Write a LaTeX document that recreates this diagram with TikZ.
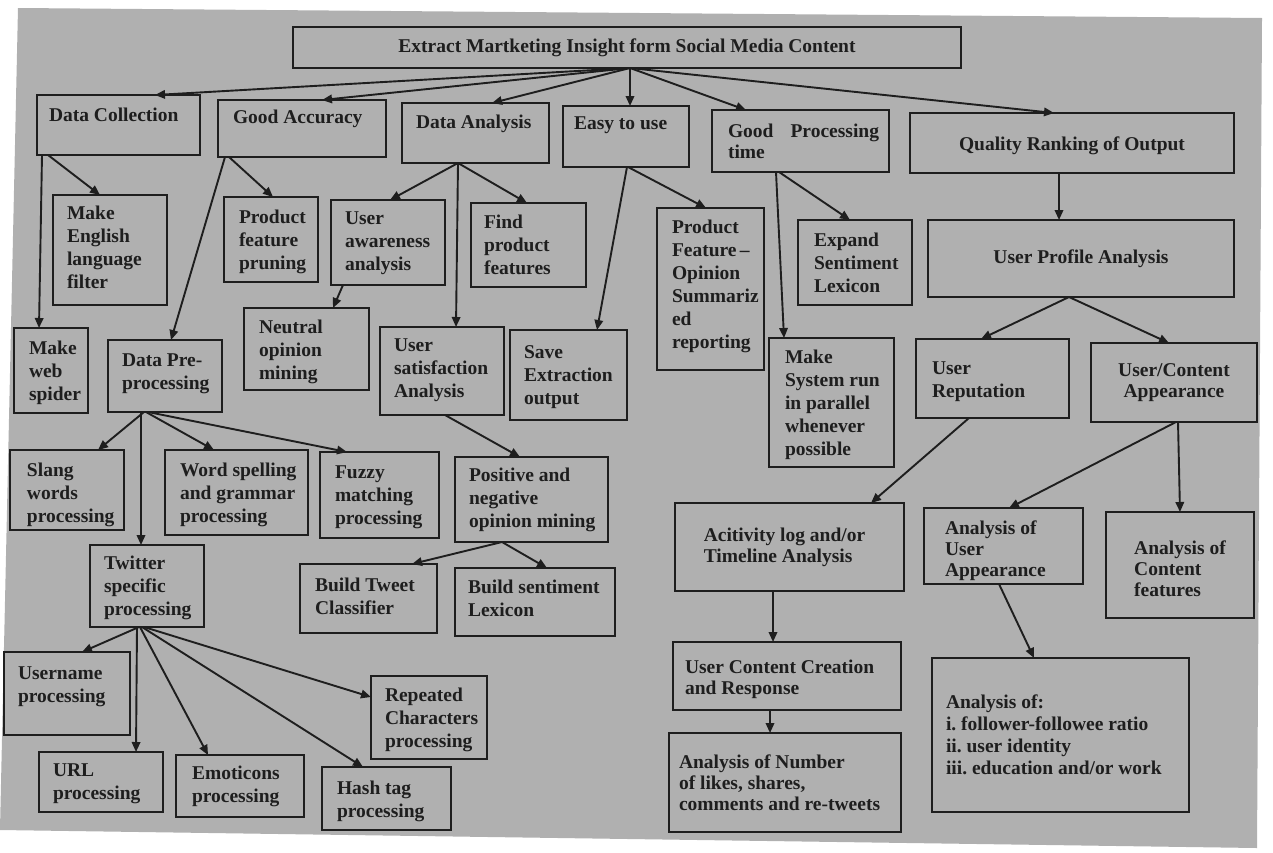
\documentclass[tikz,border=0pt]{standalone}
\usepackage{fontspec}
\setmainfont{Liberation Serif}
\usetikzlibrary{arrows.meta,calc}
\frenchspacing
\definecolor{paper}{RGB}{176,176,176}
\definecolor{ink}{RGB}{30,30,30}
\tikzset{
  box/.style={draw=ink, line width=2.3pt, inner sep=0pt, outer sep=0pt},
  lbl/.style={inner sep=0pt, outer sep=0pt, text=ink, align=left,
              font=\fontsize{19.5}{23}\selectfont\bfseries},
  tight/.style={font=\fontsize{19.5}{21}\selectfont\bfseries},
  conn/.style={draw=ink, line width=1.9pt, -{Triangle[length=10pt,width=8.5pt]}},
}
% box: name, left, top, right, bottom (pixel units, y downwards)
\newcommand\bx[5]{%
  \node[box, minimum width={#4-#2}, minimum height={#5-#3}] (#1)
    at ({(#2+#4)/2},{(#3+#5)/2}) {};}
% label at the top left of a box: [options]{name}{left pad}{first baseline}{text}
\newcommand\tl[5][]{%
  \node[lbl, anchor=north west, #1] at ($(#2.north west)+(#3,{#4-16})$)
    {\rule{0pt}{16pt}#5};}
\begin{document}
\begin{tikzpicture}[x=1pt, y=-1pt]
  \useasboundingbox (0,0) rectangle (1273,852);
  \fill[white] (0,0) rectangle (1273,852);
  \fill[paper] (18,8) -- (1262,18) -- (1257,848) -- (0,830) -- cycle;

  % ---- boxes ----
  \bx{root}{293}{27}{961}{68}
  \bx{dc}{37}{95}{200}{155}
  \bx{ga}{218}{100}{386}{157}
  \bx{da}{402}{103}{549}{163}
  \bx{eu}{563}{106}{689}{167}
  \bx{gp}{712}{110}{889}{172}
  \bx{qr}{910}{113}{1234}{173}
  \bx{me}{53}{195}{167}{305}
  \bx{pp}{224}{197}{318}{282}
  \bx{ua}{331}{200}{445}{285}
  \bx{fp}{471}{203}{586}{287}
  \bx{pfo}{657}{208}{764}{370}
  \bx{ex}{798}{220}{912}{305}
  \bx{upa}{928}{220}{1234}{297}
  \bx{nm}{244}{308}{369}{390}
  \bx{wsp}{14}{328}{88}{413}
  \bx{dp}{108}{340}{222}{412}
  \bx{us}{380}{327}{504}{415}
  \bx{se}{510}{330}{627}{420}
  \bx{ms}{769}{338}{894}{467}
  \bx{ur}{916}{339}{1069}{418}
  \bx{uc}{1091}{343}{1257}{422}
  \bx{sl}{10}{450}{124}{530}
  \bx{wg}{165}{450}{308}{535}
  \bx{fz}{320}{452}{439}{538}
  \bx{pn}{455}{457}{608}{542}
  \bx{al}{675}{503}{904}{591}
  \bx{aua}{924}{508}{1083}{584}
  \bx{acf}{1106}{512}{1254}{618}
  \bx{tw}{90}{545}{204}{627}
  \bx{bt}{300}{564}{437}{633}
  \bx{bs}{455}{568}{615}{636}
  \bx{un}{4}{652}{130}{735}
  \bx{rc}{371}{676}{487}{759}
  \bx{ucc}{673}{642}{901}{710}
  \bx{url}{39}{752}{163}{812}
  \bx{em}{176}{755}{304}{817}
  \bx{ht}{322}{767}{451}{830}
  \bx{num}{669}{733}{901}{832}
  \bx{aof}{932}{658}{1189}{812}

  % ---- labels ----
  \node[lbl, align=center] at (root.center) {Extract Martketing Insight form Social Media Content};
  \tl{dc}{12}{26}{Data Collection}
  \tl{ga}{15}{23}{Good Accuracy}
  \tl{da}{14}{25}{Data Analysis}
  \tl{eu}{11}{23}{Easy to use}
  \tl[tight]{gp}{16}{27}{\makebox[151pt][s]{Good\hfill Processing}\\time}
  \node[lbl, align=center] at ($(qr.center)+(0,3)$) {Quality Ranking of Output};
  \tl{me}{14}{24}{Make\\English\\language\\filter}
  \tl{pp}{15}{26}{Product\\feature\\pruning}
  \tl{ua}{14}{24}{User\\awareness\\analysis}
  \tl{fp}{13}{25}{Find\\product\\features}
  \tl{pfo}{15}{25}{Product\\Feature\,--\\Opinion\\Summariz\\ed\\reporting}
  \tl{ex}{16}{26}{Expand\\Sentiment\\Lexicon}
  \node[lbl, align=center] at (upa.center) {User Profile Analysis};
  \tl{nm}{15}{25}{Neutral\\opinion\\mining}
  \tl{wsp}{15}{26}{Make\\web\\spider}
  \tl{dp}{14}{26}{Data Pre-\\processing}
  \tl{us}{14}{24}{User\\satisfaction\\Analysis}
  \tl{se}{14}{28}{Save\\Extraction\\output}
  \tl{ms}{16}{25}{Make\\System run\\in parallel\\whenever\\possible}
  \tl{ur}{16}{35}{User\\Reputation}
  \node[lbl, tight, align=center] at (uc.center) {User/Content\\Appearance};
  \tl{sl}{17}{26}{Slang\\words\\processing}
  \tl{wg}{15}{26}{Word spelling\\and grammar\\processing}
  \tl{fz}{15}{26}{Fuzzy\\matching\\processing}
  \tl{pn}{14}{24}{Positive and\\negative\\opinion mining}
  \node[lbl, tight, align=left] at ($(al.center)+(-5,0)$) {Acitivity log and/or\\Timeline Analysis};
  \tl[tight]{aua}{21}{26}{Analysis of\\User\\Appearance}
  \node[lbl, tight, align=left] at ($(acf.center)+(0,4)$) {Analysis of\\Content\\features};
  \tl{tw}{14}{24}{Twitter\\specific\\processing}
  \tl{bt}{15}{27}{Build Tweet\\Classifier}
  \tl{bs}{13}{25}{Build sentiment\\Lexicon}
  \tl{un}{14}{27}{Username\\processing}
  \tl{rc}{14}{25}{Repeated\\Characters\\processing}
  \tl[tight]{ucc}{12}{31}{User Content Creation\\and Response}
  \tl{url}{14}{24}{URL\\processing}
  \tl{em}{16}{24}{Emoticons\\processing}
  \tl{ht}{15}{27}{Hash tag\\processing}
  \tl[tight]{num}{10}{35}{Analysis of Number\\of likes, shares,\\comments and re-tweets}
  \tl[font=\fontsize{19.5}{22}\selectfont\bfseries]{aof}{14}{50}{Analysis of:\\i. follower-followee ratio\\ii. user identity\\iii. education and/or work}

  % ---- connectors ----
  \draw[conn] ($(root.south west)+(337,0)$) -- ($(dc.north west)+(118,0)$);
  \draw[conn] ($(root.south west)+(337,0)$) -- ($(ga.north west)+(104,0)$);
  \draw[conn] ($(root.south west)+(337,0)$) -- ($(da.north west)+(90,0)$);
  \draw[conn] ($(root.south west)+(337,0)$) -- ($(eu.north west)+(67,0)$);
  \draw[conn] ($(root.south west)+(337,0)$) -- ($(gp.north west)+(34,0)$);
  \draw[conn] ($(root.south west)+(337,0)$) -- ($(qr.north west)+(144,0)$);

  \draw[conn] ($(dc.south west)+(5,0)$) -- ($(wsp.north west)+(25,0)$);
  \draw[conn] ($(dc.south west)+(11,0)$) -- ($(me.north west)+(47,0)$);
  \draw[conn] ($(ga.south west)+(11,0)$) -- ($(pp.north west)+(49,0)$);
  \draw[conn] ($(ga.south west)+(7,0)$) -- ($(dp.north west)+(63,0)$);
  \draw[conn] ($(da.south west)+(56,0)$) -- ($(ua.north west)+(59,0)$);
  \draw[conn] ($(da.south west)+(56,0)$) -- ($(us.north west)+(76,0)$);
  \draw[conn] ($(da.south west)+(56,0)$) -- ($(fp.north west)+(56,0)$);
  \draw[conn] ($(eu.south west)+(65,0)$) -- ($(pfo.north west)+(49,0)$);
  \draw[conn] ($(eu.south west)+(64,0)$) -- ($(se.north west)+(87,0)$);
  \draw[conn] ($(gp.south west)+(67,0)$) -- ($(ex.north west)+(52,0)$);
  \draw[conn] ($(gp.south west)+(64,0)$) -- ($(ms.north west)+(15,0)$);
  \draw[conn] ($(qr.south west)+(149,0)$) -- ($(upa.north west)+(131,0)$);

  \draw[conn] ($(ua.south west)+(12,0)$) -- ($(nm.north west)+(89,0)$);
  \draw[conn] ($(upa.south west)+(141,0)$) -- ($(ur.north west)+(65,0)$);
  \draw[conn] ($(upa.south west)+(141,0)$) -- ($(uc.north west)+(78,0)$);

  \draw[conn] ($(dp.south west)+(36,0)$) -- ($(sl.north west)+(88,0)$);
  \draw[conn] ($(dp.south west)+(33,0)$) -- ($(tw.north west)+(51,0)$);
  \draw[conn] ($(dp.south west)+(38,0)$) -- ($(wg.north west)+(49,0)$);
  \draw[conn] ($(dp.south west)+(40,0)$) -- ($(fz.north west)+(27,0)$);
  \draw[conn] ($(us.south west)+(65,0)$) -- ($(pn.north west)+(65,0)$);
  \draw[conn] ($(pn.south west)+(47,0)$) -- ($(bt.north west)+(112,0)$);
  \draw[conn] ($(pn.south west)+(47,0)$) -- ($(bs.north west)+(92,0)$);

  \draw[conn] ($(ur.south west)+(53,0)$) -- ($(al.north west)+(196,0)$);
  \draw[conn] ($(uc.south west)+(85,0)$) -- ($(aua.north west)+(85,0)$);
  \draw[conn] ($(uc.south west)+(87,0)$) -- ($(acf.north west)+(74,0)$);
  \draw[conn] ($(al.south west)+(98,0)$) -- ($(ucc.north west)+(100,0)$);
  \draw[conn] ($(ucc.south west)+(97,0)$) -- ($(num.north west)+(101,0)$);
  \draw[conn] ($(aua.south west)+(75,0)$) -- ($(aof.north west)+(102,0)$);

  \draw[conn] ($(tw.south west)+(49,0)$) -- ($(un.north west)+(78,0)$);
  \draw[conn] ($(tw.south west)+(47,0)$) -- ($(url.north west)+(97,0)$);
  \draw[conn] ($(tw.south west)+(50,0)$) -- ($(em.north west)+(32,0)$);
  \draw[conn] ($(tw.south west)+(52,0)$) -- ($(ht.north west)+(41,0)$);
  \draw[conn] ($(tw.south west)+(54,0)$) -- ($(rc.north west)+(0,21)$);
\end{tikzpicture}
\end{document}
